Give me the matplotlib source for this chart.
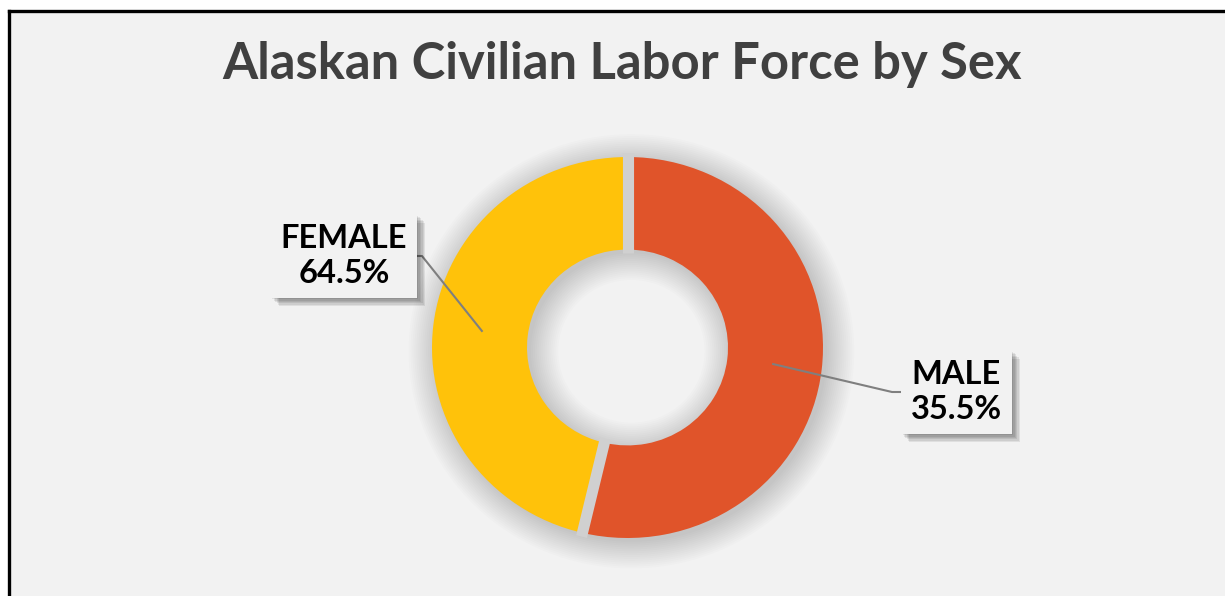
import numpy as np
import matplotlib.pyplot as plt
from matplotlib.patches import Wedge
import matplotlib.patheffects as pe

# slice sizes as drawn in the picture (share of the ring, %)
categories = ["MALE", "FEMALE"]
ring_share = [53.7, 46.3]
# percentages printed on the labels
label_pct = [35.5, 64.5]
colors = ["#E0542A", "#FFC20A"]

title = "Alaskan Civilian Labor Force by Sex"

W, H = 1225, 596
fig = plt.figure(figsize=(W / 100, H / 100), dpi=100, facecolor="white")

# background panel with the black frame on top and left
bg = fig.add_axes([8.5 / W, 0, (W - 8.5) / W, (H - 10.5) / H], zorder=0)
bg.set_facecolor("#F2F2F2")
bg.set_xticks([])
bg.set_yticks([])
for side in ["right", "bottom"]:
    bg.spines[side].set_visible(False)
for side in ["left", "top"]:
    bg.spines[side].set_color("black")
    bg.spines[side].set_linewidth(2.4)

fig.text(622.5 / W, 1 - 64 / H, title, ha="center", va="center",
         fontsize=36.5, fontweight="bold", color="#404040", family="Lato")

# donut axes, pixel placed
rx, ry = 195.5, 190.5
cx, cy = 627.5, H - 347.5
ax = fig.add_axes([(cx - 1.25 * rx) / W, (cy - 1.25 * ry) / H,
                   2.5 * rx / W, 2.5 * ry / H], zorder=1)
ax.set_facecolor("none")

ring_w = 0.486
# soft shadow under the ring
for s in np.linspace(0.0, 0.14, 15):
    ax.add_patch(Wedge((0.02, -0.02), 1 + s, 0, 360, width=ring_w + 2 * s,
                       facecolor="black", edgecolor="none", alpha=0.011))

wedges, _ = ax.pie(ring_share, colors=colors, startangle=90, counterclock=False,
                   radius=1, wedgeprops=dict(width=ring_w, edgecolor="none"))
ax.set_aspect("auto")
ax.set_xlim(-1.25, 1.25)
ax.set_ylim(-1.25, 1.25)
ax.axis("off")

# grey gaps between the slices
for w in wedges:
    a = np.deg2rad(w.theta1)
    r = np.array([1 - ring_w - 0.02, 1.02])
    ax.plot(r * np.cos(a), r * np.sin(a), color="#D0D0D0", lw=8,
            solid_capstyle="butt", zorder=3)

# labels with leader lines (box centre, corner offset of the leader, in pixels)
box_pos = {"MALE": (956.5, H - 392), "FEMALE": (344, H - 256)}
corner_dx = {"MALE": -64.5, "FEMALE": 78}
edge_dx = {"MALE": -53.5, "FEMALE": 66}
for w, name, pct in zip(wedges, categories, label_pct):
    mid = np.deg2rad((w.theta1 + w.theta2) / 2)
    start = ax.transData.transform((0.75 * np.cos(mid), 0.75 * np.sin(mid)))
    bx, by = box_pos[name]
    xs = [start[0], bx + corner_dx[name], bx + edge_dx[name]]
    ys = [start[1], by, by]
    fig.add_artist(plt.Line2D(xs, ys, transform=None, color="#7F7F7F",
                              lw=1.5, zorder=4))
    t = fig.text(bx / W, by / H, f"{name}\n{pct:.1f}%", ha="center", va="center",
                 fontsize=23.5, fontweight="bold", color="black", family="Lato",
                 linespacing=1.25, zorder=5,
                 bbox=dict(boxstyle="square,pad=0.3", facecolor="#F2F2F2",
                           edgecolor="none"))
    t.get_bbox_patch().set_path_effects(
        [pe.SimplePatchShadow(offset=(o, -o), shadow_rgbFace="black", alpha=0.08)
         for o in (1, 2, 3, 4, 5, 6)] + [pe.Normal()])

fig.savefig("out.png", dpi=100, facecolor=fig.get_facecolor())
